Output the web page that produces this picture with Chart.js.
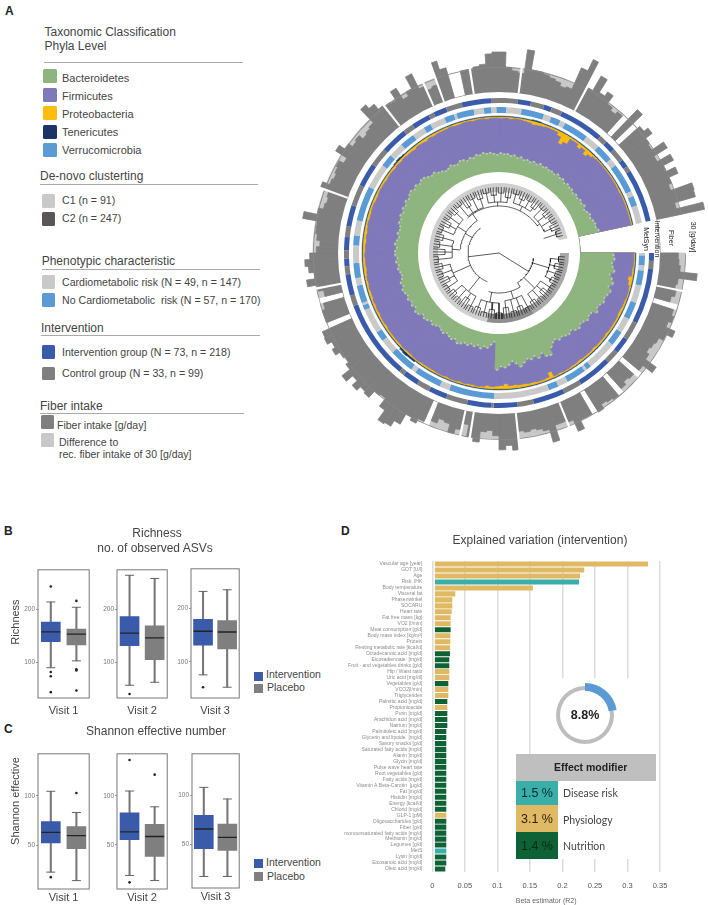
<!DOCTYPE html>
<html>
<head>
<meta charset="utf-8">
<script src="https://cdn.jsdelivr.net/npm/chart.js@4"></script>
<style>
  html, body { margin: 0; padding: 0; background: #fff; }
  #page { position: relative; width: 708px; height: 905px; overflow: hidden; background: #fff; font-family: "Liberation Sans", Arial, sans-serif; color: #444; }
  #page canvas { position: absolute; }
  .txt { position: absolute; white-space: nowrap; transform: translateY(-50%); z-index: 5; }
  .box { position: absolute; }
</style>
</head>
<body>
<div id="page"></div>
<script>
// ---- panel A data: one entry per 2 degree sector, clockwise from the gap ----
const fiberIntake = [
  22,23,25,46,24,22,24,20,0,27, 30,26,38,30,24,22,20,24,40,26,
  0,24,22,26,0,30,28,26,32,0, 30,30,41,26,24,24,43,27,24,22,
  24,22,44,38,43,26,20,22,35,30, 16,24,30,20,18,24,0,28,34,30,
  44,52,54,40,28,30,40,38,44,36, 46,34,30,32,38,34,40,39,0,30,
  30,26,0,22,28,40,30,36,40,34, 26,22,26,28,28,46,30,24,22,24,
  35,26,24,26,28,22,38,30,24,26, 20,22,24,46,40,32,30,28,40,24,
  30,46,26,20,22,49,38,0,0,30, 30,32,34,46,48,48,30,26,24,53,
  30,30,28,26,24,20,22,50,65,32, 52,34,40,28,24,28,0,46,0,34,
  40,30,28,45,26,44,30,42,30,26, 53,52,26,59
];
const bacteroidetes = [
  60,62,58,60,64,57,62,66,60,66, 63,60,62,58,56,60,52,51,54,50,
  48,52,49,44,47,45,42,44,39,42, 48,60,58,50,56,50,54,51,56,62,
  55,50,56,60,58,64,14,20,26,24, 29,24,28,25,29,27,31,33,28,31,
  29,26,30,27,24,27,30,27,31,33, 30,36,38,33,37,34,38,35,38,40,
  36,39,35,33,35,38,36,40,37,41, 41,38,42,39,36,40,37,38,42,40,
  44,41,45,42,46,43,46,48,44,47, 43,46,45,41,38,40,35,33,30,31,
  34,31,30,34,33,29,33,31,35,33, 36,34,35,33,31,34,32,33,30,32,
  28,31,27,29,27,30,27,31,28,30, 28,29,27,31,28,30,26,29,27,28,
  25,28,26,29,27,30,26,29,32,30, 33,35,34,38
];
const firmicutes = [
  36,34,38,35,31,33,30,29,36,30, 32,35,32,36,39,35,43,44,40,45,
  47,43,45,51,48,50,52,51,56,54, 48,35,38,36,38,45,41,43,38,31,
  38,42,37,29,34,29,80,73,69,72, 66,71,68,70,67,69,64,63,68,64,
  66,69,65,69,72,68,65,69,64,62, 65,59,57,61,58,61,56,60,56,55,
  58,55,60,61,60,56,57,54,57,54, 53,56,51,55,57,54,58,56,52,55,
  51,53,49,53,49,52,48,47,51,47, 52,48,50,53,56,53,60,61,63,64,
  60,64,65,61,63,66,62,65,61,62, 60,62,60,63,65,61,64,62,66,64,
  67,63,65,64,67,65,68,64,62,48, 56,66,68,59,66,57,66,66,69,68,
  71,68,70,67,69,66,69,67,64,66, 63,61,62,58
];
const proteobacteria = [
  2,2,2,3,3,8,6,3,2,2, 3,3,4,4,3,3,3,3,4,3,
  3,3,4,3,3,3,4,3,3,2, 2,3,2,12,4,3,3,4,4,5,
  5,6,5,9,6,5,4,5,3,2, 3,3,2,3,2,2,3,2,2,3,
  3,3,3,2,2,3,3,2,3,3, 3,3,3,4,3,3,4,3,4,3,
  4,4,3,4,3,4,5,4,4,3, 4,4,5,4,5,4,3,4,4,3,
  3,4,4,3,3,3,4,3,3,4, 3,4,3,4,4,5,3,4,5,3,
  4,3,3,3,2,3,3,2,2,3, 2,2,3,2,2,3,2,3,2,2,
  3,4,6,5,4,3,3,3,8,20, 14,3,3,8,4,11,6,3,2,2,
  2,2,2,2,2,2,3,2,2,2, 2,2,2,2
];
const tenericutes = [
  1,1,1,1,1,1,1,1,1,1, 1,1,1,1,1,1,1,1,1,1,
  1,1,1,1,1,1,1,1,1,1, 1,1,1,1,1,1,1,1,1,1,
  1,1,1,1,1,1,1,1,1,1, 1,1,1,1,1,1,1,1,1,1,
  1,1,1,1,3,3,4,3,1,1, 1,1,1,1,1,1,1,1,1,1,
  1,1,1,1,1,1,1,1,1,1, 1,1,1,1,1,1,1,1,1,1,
  1,1,1,1,1,1,1,1,1,1, 2,3,2,1,1,1,1,1,1,1,
  1,1,1,1,1,1,1,1,1,1, 1,1,1,1,1,1,1,1,1,1,
  1,1,2,2,1,1,1,1,1,1, 1,1,1,1,1,1,1,1,1,1,
  1,1,1,1,1,1,1,1,1,1, 1,1,1,1
];
const verrucomicrobia = [
  1,1,1,1,1,1,1,1,1,1, 1,1,1,1,1,1,1,1,1,1,
  1,1,1,1,1,1,1,1,1,1, 1,1,1,1,1,1,1,1,1,1,
  1,1,1,1,1,1,1,1,1,1, 1,1,1,1,1,1,1,1,1,1,
  1,1,1,1,1,1,1,1,1,1, 1,1,1,1,1,1,1,1,1,1,
  1,1,1,1,1,1,1,1,1,1, 1,1,1,1,1,1,1,1,1,1,
  1,1,1,1,1,1,1,1,1,1, 1,1,1,1,1,1,1,1,1,1,
  1,1,1,1,1,1,1,1,1,1, 1,1,1,1,1,1,1,1,1,1,
  1,1,1,1,1,1,1,1,1,1, 1,1,1,1,1,1,1,1,1,1,
  1,1,1,1,1,1,1,1,1,1, 1,1,1,1
];
const gapSectors = [0,0,0,0,0,0];
const fiberCutAt = [11.7,68,84,99,102,169,200,232,246,250,261,277,298];

// groups around the circle, as runs in degrees
const interventionRuns = ['I','C','I','C','I','C','I','C','I','C','I','C','I','C','I','C','I','C','I','C','I','C','I','C','I','C','I','C','I','C','I','C','I','C','I','C','I','C','I','C','I','C','I','C','I','C','I','C','I'];
const interventionSpans = [3,3,21,7,6,5,13,7,12,6,9,1,9,8,7,5,6,2,30,4,8,3,3,3,5,4,8,8,9,7,10,4,7,2,5,6,11,10,5,5,3,4,17,3,4,5,3,2,20];
const metsynRuns = ['G','B','G','B','G','B','G','B','G','B','G','B','G','B','G','B','G','B','G','B','G','B','G','B','G','B','G','B','G','B','G','B','G','B','G','B','G','B','G','B','G','B','G','B','G','B','G','B','G','B','G','B','G','B','G','B','G','B'];
const metsynSpans = [1,4,2,6,7,7,6,6,12,2,1,8,4,4,22,18,4,11,2,10,6,4,10,2,1,7,3,6,7,4,6,14,10,5,6,6,5,3,6,4,1,7,4,3,2,4,6,9,3,4,2,10,6,7,3,12,2,4];
// closing span of the MetSyn ring stays grey
const metsynTail = 7;

// dendrogram: arcs [from, to, radius], stems [angle, r0, r1], groups [from, to, radius, parent], forks [angle, radius]
const dendroArcs = [[9,58,35],[58,105,40],[112,233,31],[186,236,39],[228,325,47]];
const dendroStems = [[173,0,31],[32,0,35],[58,35,40],[210,31,39],[236,39,47]];
const dendroGroups = [[6,27,52,35],[34,55,50,35],[62,83,48,40],[90,111,50,40],[118,139,49,31],[146,167,50,31],[174,195,47,39],[202,223,49,39],[230,251,48,47],[258,279,51,47],[286,307,52,47],[314,335,50,47]];
const dendroForks = [[6,60],[13,57],[20,60],[27,58],[34,61],[41,56],[48,60],[55,58],[62,61],[69,57],[76,60],[83,55],[90,60],[97,57],[104,61],[111,58],[118,60],[125,55],[132,60],[139,58],[146,61],[153,56],[160,60],[167,58],[174,61],[181,54],[188,60],[195,58],[202,61],[209,56],[216,60],[223,58],[230,61],[237,55],[244,60],[251,57],[258,61],[265,58],[272,60],[279,56],[286,61],[293,58],[300,60],[307,56],[314,61],[321,58],[328,60],[335,57],[342,60]];

// ---- panels B and C: rows are visits, columns are intervention / placebo ----
const boxGroups = ['Intervention','Placebo'];
const visitNames = ['Visit 1','Visit 2','Visit 3'];
const richnessLow  = [[90,103],[57,62.5],[76,53]];
const richnessQ1   = [[139,133],[131.5,105],[131,124]];
const richnessMed  = [[157.7,153.5],[155,146],[157,155.6]];
const richnessQ3   = [[176,163],[186,168.5],[179,177]];
const richnessHigh = [[214,204],[263.7,257.7],[231,234]];
const richnessOut  = [[[243,82,74,44],[216,87,85,47]],[[40.5],[]],[[53],[]]];
const richnessRange = [[33,274.6],[33,274],[33,273]];
const richnessTicks = [100,200];
const shannonLow  = [[22.8,14.2],[18.8,13.7],[17.7,17.7]];
const shannonQ1   = [[52.5,46.5],[55.4,38.2],[45.9,44]];
const shannonMed  = [[63,59.8],[63.4,58.6],[65.8,57.3]];
const shannonQ3   = [[74,69],[82.8,71],[79.7,70.9]];
const shannonHigh = [[104.7,83.2],[105,88.9],[108,96.2]];
const shannonOut  = [[[17.7],[103]],[[136.6,11.8],[121.7]],[[],[]]];
const shannonRange = [[5.7,142.7],[5,143],[6,142]];
const shannonTicks = [50,100];

// ---- panel D ----
const effectLabels = ['Vascular age [year]','GOT [U/l]','Age','Risk: IHK','Body temperature','Visceral fat','Phasenwinkel','SOCARU','Heart rate','Fat free mass [kg]','VO2 [l/min]','Meat consumption [g/d]','Body mass index [kg/m²]','Protein','Resting metabolic rate [kcal/d]','Octadecanoic acid [mg/d]','Eicosadienoate  [mg/d]','Fruit - and vegetables drinks [g/d]','Hip / Waist ratio','Uric acid [mg/dl]','Vegetables [g/d]','VCO2[l/min]','Triglycerides','Palmitic acid [mg/d]','Propionicacide','Purin [mg/d]','Arachidon acid [mg/d]','Natrium [mg/d]','Palmitoleic acid [mg/d]','Glycerin and lipoide  [mg/d]','Savory snacks [g/d]','Saturated fatty acids [mg/d]','Alanin [mg/d]','Glycin [mg/d]','Pulse wave heart rate','Root vegetables [g/d]','Fatty acids [mg/d]','Vitamin A Beta-Carotin  [µg/d]','Fat [mg/d]','Histidin [mg/d]','Energy [kcal/d]','Chlorid [mg/d]','GLP-1 [pM]','Oligosaccharides [g/d]','Fiber [g/d]','monounsaturated fatty acids [mg/d]','Methionin [mg/d]','Legumes [g/d]','MetS','Lysin [mg/d]','Eicosanoic acid [mg/d]','Oleic acid [mg/d]'];
const effectValues = [0.331,0.233,0.2265,0.225,0.154,0.0349,0.0303,0.0303,0.0293,0.0277,0.0277,0.0277,0.0272,0.0272,0.0267,0.0267,0.0256,0.0256,0.0256,0.0256,0.0241,0.0241,0.0241,0.0226,0.0226,0.0226,0.0226,0.0226,0.021,0.021,0.021,0.021,0.021,0.021,0.021,0.021,0.021,0.021,0.021,0.021,0.021,0.021,0.021,0.021,0.021,0.021,0.021,0.021,0.021,0.021,0.021,0.0195];
const effectKinds = ['P','P','P','D','P','P','P','P','P','P','P','N','P','P','P','N','N','N','P','P','N','P','P','N','P','N','N','N','N','N','N','N','N','N','N','N','N','N','N','N','N','N','P','N','N','N','N','N','D','N','N','N'];
const effectTickLabels = ['0','0.05','0.1','0.15','0.2','0.25','0.3','0.35'];
const explainedShare = [8.8,30.3];

const kindColors = {P:'#E0B965', N:'#0F6235', D:'#3AAFA9'};
const page = document.getElementById('page');
const centerX = 499, centerY = 253;
const clear = 'rgba(0,0,0,0)';
Chart.defaults.font.family = '"Liberation Sans", Arial, sans-serif';

function addCanvas(left, top, w, h) {
  const c = document.createElement('canvas');
  c.width = w; c.height = h;
  c.style.left = left + 'px'; c.style.top = top + 'px';
  c.style.width = w + 'px'; c.style.height = h + 'px';
  page.appendChild(c);
  return c;
}
function addText(text, x, y, size, extra) {
  const d = document.createElement('div');
  d.className = 'txt';
  d.textContent = text;
  d.style.left = x + 'px'; d.style.top = y + 'px'; d.style.fontSize = size + 'px';
  if (extra) Object.assign(d.style, extra);
  page.appendChild(d);
  return d;
}
function addBox(x, y, w, h, color, radius) {
  const d = document.createElement('div');
  d.className = 'box';
  Object.assign(d.style, {left:x+'px', top:y+'px', width:w+'px', height:h+'px', background:color, borderRadius:(radius||0)+'px'});
  page.appendChild(d);
  return d;
}
const baseOptions = {responsive:false, animation:false, events:[], plugins:{legend:{display:false}, tooltip:{enabled:false}}};

function ring(cx, cy, radius, thickness, spans, colors, rotation, sweep) {
  const size = radius * 2;
  new Chart(addCanvas(cx - radius, cy - radius, size, size), {
    type: 'doughnut',
    data: {labels: spans.map((s, i) => i), datasets: [{data: spans, backgroundColor: colors, borderWidth: 0}]},
    options: {...baseOptions, cutout: radius - thickness, rotation: rotation === undefined ? 90 : rotation, circumference: sweep === undefined ? 348 : sweep}
  });
}
function radialScale(min, max, start) {
  return {r: {min, max, startAngle: start, ticks: {display:false}, grid: {display:false}, angleLines: {display:false}, pointLabels: {display:false}}};
}
const sectorLabels = fiberIntake.concat(gapSectors).map((v, i) => i);
function polarLayer(radius, min, max, datasets) {
  new Chart(addCanvas(centerX - radius, centerY - radius, radius * 2, radius * 2), {
    type: 'polarArea',
    data: {labels: sectorLabels, datasets},
    options: {...baseOptions, scales: radialScale(min, max, 90)}
  });
}
function sector(values, color) {
  return {data: values.concat(gapSectors), backgroundColor: color, borderColor: color, borderWidth: 0.8};
}

// ---- A: fiber bars, 30 g line and cuts ----
polarLayer(220, -193.2, 70.8, [
  sector(fiberIntake, '#7F7F7F'),
  sector(fiberIntake.map(v => v > 0 ? 30 : 0), '#C8C8C8')
]);
ring(centerX, centerY, 186.5, 0.8, [348], ['#8a8a8a']);

const cutSpans = [], cutColors = [];
let prevCut = 0;
fiberCutAt.forEach(at => {
  cutSpans.push(at - 0.35 - prevCut, 0.7);
  cutColors.push(clear, '#fff');
  prevCut = at + 0.35;
});
cutSpans.push(348 - prevCut);
cutColors.push(clear);
ring(centerX, centerY, 222, 61, cutSpans, cutColors);
addBox(centerX - 161, centerY - 161, 322, 322, '#fff', 161);

// ---- A: the two group rings ----
ring(centerX, centerY, 155, 5, interventionSpans, interventionRuns.map(k => k === 'I' ? '#3A5BAA' : '#7F7F7F'));
ring(centerX, centerY, 146, 6, metsynSpans.concat([metsynTail]), metsynRuns.concat(['G']).map(k => k === 'B' ? '#5B9BD5' : '#C9C9C9'));

// ---- A: stacked phyla, drawn outermost first through one radial scale ----
const stackedPhyla = [bacteroidetes, firmicutes, proteobacteria, tenericutes, verrucomicrobia];
const phylaColors = ['#8FB57F','#7F78BB','#FDBC0E','#1C3566','#5B9BD5'];
let running = bacteroidetes.map(() => 0);
const phylaSets = stackedPhyla.map((series, k) => {
  running = running.map((v, i) => v + series[i]);
  return sector(running, phylaColors[k]);
});
polarLayer(140, -144.6, 105.4, phylaSets);
new Chart(addCanvas(centerX - 140, centerY - 140, 280, 280), {
  type: 'radar',
  data: {labels: sectorLabels, datasets: [{data: bacteroidetes.concat(gapSectors.map(() => null)), showLine: false, fill: false, backgroundColor: clear, borderColor: clear, borderWidth: 0, pointRadius: 1, pointBorderWidth: 0, pointBackgroundColor: '#C3CAC0'}]},
  options: {...baseOptions, scales: radialScale(-144.6, 105.4, 91)}
});
addBox(centerX - 81, centerY - 81, 162, 162, '#fff', 81);

// ---- A: dendrogram ----
ring(centerX, centerY, 70, 9, [60,40,248], ['#a8a8a8','#8e8e8e','#cfcfcf']);
const treePts = [];
const gapPt = {x: NaN, y: NaN};
function toXY(phi, r) {
  const a = phi * Math.PI / 180;
  return {x: r * Math.cos(a), y: -r * Math.sin(a)};
}
function addArc(a0, a1, r) {
  for (let a = a0; a < a1; a += 2) treePts.push(toXY(a, r));
  treePts.push(toXY(a1, r), gapPt);
}
function addStem(phi, r0, r1) { treePts.push(toXY(phi, r0), toXY(phi, r1), gapPt); }
dendroArcs.forEach(a => addArc(a[0], a[1], a[2]));
dendroStems.forEach(s => addStem(s[0], s[1], s[2]));
dendroGroups.forEach(g => {
  addArc(g[0], g[1], g[2]);
  addStem((g[0] + g[1]) / 2, g[3], g[2]);
});
dendroForks.forEach(f => {
  const group = dendroGroups.find(g => f[0] >= g[0] && f[0] <= g[1]);
  addArc(f[0] - 2.6, f[0] + 2.6, f[1]);
  addStem(f[0], group ? group[2] : 47, f[1]);
  addStem(f[0] - 2.6, f[1], 66);
  addStem(f[0], f[1], 66);
  addStem(f[0] + 2.6, f[1], 66);
});
new Chart(addCanvas(centerX - 72, centerY - 72, 144, 144), {
  type: 'scatter',
  data: {datasets: [{data: treePts, showLine: true, pointRadius: 0, borderColor: '#151515', borderWidth: 0.7}]},
  options: {...baseOptions, scales: {x: {type:'linear', min:-72, max:72, display:false}, y: {type:'linear', min:-72, max:72, display:false}}}
});

// ---- B, C: box plots ----
const framePlugin = {
  id: 'frame',
  afterDraw(chart) {
    const a = chart.chartArea, ctx = chart.ctx;
    ctx.save();
    ctx.strokeStyle = '#777';
    ctx.lineWidth = 1;
    ctx.strokeRect(a.left, a.top, a.right - a.left, a.bottom - a.top);
    ctx.restore();
  }
};
function boxPanel(frame, range, ticks, name, low, q1, med, q3, high, outliers, axisHeight, titlePad) {
  const [left, right, top, bottom] = frame;
  const points = (values) => values.flatMap((list, g) => list.map(y => ({x: boxGroups[g], y})));
  new Chart(addCanvas(left - 22, top - 2, right - left + 24, bottom - top + 2 + axisHeight), {
    type: 'bar',
    data: {
      labels: boxGroups,
      datasets: [
        {type:'scatter', data: points(outliers), pointRadius: 1.3, pointBackgroundColor:'#222', pointBorderWidth:0, order:1},
        {type:'scatter', data: med.map((y, g) => ({x: boxGroups[g], y})), pointStyle:'line', pointRadius: 9.5, pointBorderWidth: 1.3, pointBorderColor:'#222', order:2},
        {data: q1.map((v, g) => [v, q3[g]]), backgroundColor:['#3A5BAA','#7F7F7F'], barThickness:19, grouped:false, order:3},
        {type:'scatter', data: low.concat(high).map((y, g) => ({x: boxGroups[g % 2], y})), pointStyle:'line', pointRadius: 4.5, pointBorderWidth: 1, pointBorderColor:'#666', order:4},
        {data: low.map((v, g) => [v, high[g]]), backgroundColor:'#777', barThickness:1.4, grouped:false, order:5}
      ]
    },
    options: {...baseOptions,
      layout: {padding: {top: 2, right: 2}},
      scales: {
        x: {type:'category', grid:{display:false}, border:{display:false}, ticks:{display:false},
            title:{display:true, text:name, font:{size:11}, color:'#444', padding:{top:titlePad, bottom:0}},
            afterFit(s) { s.height = axisHeight; }},
        y: {min: range[0], max: range[1], grid:{drawOnChartArea:false, tickLength:2, color:'#999'}, border:{display:false},
            ticks:{font:{size:6.5}, color:'#777', padding:1},
            afterBuildTicks(s) { s.ticks = ticks.map(v => ({value:v})); },
            afterFit(s) { s.width = 22; }}
      }
    },
    plugins: [framePlugin]
  });
}
const richnessFrames = [[38,98,561,698],[117,176,561,698],[191,248,560,698]];
const shannonFrames = [[38,98,745,889],[117,176,745,889],[192,248,745,888]];
visitNames.forEach((name, v) => {
  boxPanel(richnessFrames[v], richnessRange[v], richnessTicks, name, richnessLow[v], richnessQ1[v], richnessMed[v], richnessQ3[v], richnessHigh[v], richnessOut[v], 20, 5);
  boxPanel(shannonFrames[v], shannonRange[v], shannonTicks, name, shannonLow[v], shannonQ1[v], shannonMed[v], shannonQ3[v], shannonHigh[v], shannonOut[v], 16, 0);
});

// ---- D: explained variation ----
new Chart(addCanvas(340, 555, 368, 350), {
  type: 'bar',
  data: {labels: effectLabels, datasets: [{data: effectValues, base: 0.0045, backgroundColor: effectKinds.map(k => kindColors[k]), barThickness: 4.4}]},
  options: {...baseOptions, indexAxis:'y',
    layout: {padding: {top: 6, right: 48}},
    scales: {
      x: {min:0, max:0.35, grid:{color:'#dcdcdc', lineWidth:1.5, drawTicks:false}, border:{display:false},
          afterBuildTicks(s) { s.ticks = effectTickLabels.map(t => ({value: Number(t)})); },
          ticks:{callback:(v, i) => effectTickLabels[i], font:{size:7.5}, color:'#555', padding:9, maxRotation:0},
          title:{display:true, text:'Beta estimator (R2)', font:{size:7}, color:'#666', padding:{top:2, bottom:0}},
          afterFit(s) { s.height = 33; }},
      y: {grid:{display:false}, border:{display:false}, ticks:{autoSkip:false, font:{size:5}, color:'#8c8c8c', padding:2, minRotation:0, maxRotation:0},
          afterFit(s) { s.width = 92.3; }}
    }
  }
});

// white patches that interrupt the grid around the donut and effect table
addBox(540, 678, 100, 76, '#fff');
addBox(516, 754, 140, 105, '#fff');
ring(585, 715, 29, 4, [1], ['#BDBDBD'], 0, 360);
ring(585, 715, 32, 8, explainedShare, ['#5B9BD5', clear], 0, 360);
addText('8.8%', 585, 715, 12.5, {fontWeight:'bold', color:'#222', transform:'translate(-50%,-50%)'});

addBox(515.7, 754.3, 140.3, 26.4, '#BFBFBF');
addBox(515.7, 780.7, 42.6, 24.6, '#3AAFA9');
addBox(515.7, 805.3, 42.6, 26.7, '#E0B965');
addBox(515.7, 832, 42.6, 26.7, '#0F6235');
addText('Effect modifier', 590.7, 767, 10.5, {fontWeight:'bold', color:'#222', transform:'translate(-50%,-50%)'});
[['1.5 %',793,'#0d2b33'],['3.1 %',819,'#2b1d06'],['1.4 %',846,'#0a2a18']].forEach(r => addText(r[0], 537, r[1], 12.5, {color:r[2], transform:'translate(-50%,-50%)'}));
[['Disease risk',793],['Physiology',820],['Nutrition',846]].forEach(r => addText(r[0], 563, r[1], 10.5, {fontFamily:'Lato', color:'#444'}));

// ---- texts and legends ----
addText('A', 5, 11, 12, {fontWeight:'bold', color:'#222'});
addText('B', 4, 530.5, 12, {fontWeight:'bold', color:'#222'});
addText('C', 4, 729, 12, {fontWeight:'bold', color:'#222'});
addText('D', 341, 530.5, 12, {fontWeight:'bold', color:'#222'});

addText('Taxonomic Classification', 44.5, 32, 12);
addText('Phyla Level', 44.5, 46, 12);
[[44,61.5,199],[40,183.7,218],[41.7,268.7,218],[41,335.3,219],[40,412.7,204]].forEach(l => addBox(l[0], l[1], l[2], 1, '#aaa'));
[['Bacteroidetes','#8FB57F',69,78],['Firmicutes','#7F78BB',88,96],['Proteobacteria','#FDBC0E',106,114],['Tenericutes','#1C3566',125,132],['Verrucomicrobia','#5B9BD5',143,150]].forEach(r => {
  addBox(43, r[2], 14, 13.5, r[1], 1.5);
  addText(r[0], 62, r[3], 11);
});
addText('De-novo clusterting', 40, 176, 12);
[['C1 (n = 91)','#C9C9C9',194,200],['C2 (n = 247)','#5A5657',212,218],['Cardiometabolic risk (N = 49, n = 147)','#C9C9C9',275,281.7],['No Cardiometabolic  risk (N = 57, n = 170)','#5B9BD5',293,299.7],['Intervention group (N = 73, n = 218)','#3A5BAA',345,351.7],['Control group (N = 33, n = 99)','#7F7F7F',366.7,373]].forEach(r => {
  addBox(41.5, r[2], 13.5, 13.5, r[1], 1.5);
  addText(r[0], 62, r[3], 10.6, {whiteSpace:'pre'});
});
addText('Phenotypic characteristic', 41.7, 260.7, 12);
addText('Intervention', 41, 328, 12);
addText('Fiber intake', 40, 405.7, 12);
addBox(40.7, 415, 13.5, 13.5, '#7F7F7F', 1.5);
addBox(40.7, 433, 13.5, 13.5, '#C8C8C8', 1.5);
addText('Fiber intake [g/day]', 57, 425, 10.5);
addText('Difference to', 59, 441.7, 10.5);
addText('rec. fiber intake of 30 [g/day]', 59, 454, 10.5);

[['MetSyn',646,239],['Intervention',657,239],['Fiber',671,237.5],['30 [g/day]',693,237]].forEach(r => {
  addText(r[0], r[1], r[2], 7, {color:'#222', transform:'translate(-50%,-50%) rotate(90deg)'});
});

addText('Richness', 157, 533, 12, {transform:'translate(-50%,-50%)'});
addText('no. of observed ASVs', 155, 548, 12, {transform:'translate(-50%,-50%)'});
addText('Richness', 15, 622, 11, {transform:'translate(-50%,-50%) rotate(-90deg)'});
addText('Shannon effective number', 156, 731, 12, {transform:'translate(-50%,-50%)'});
addText('Shannon effective', 15, 801, 11, {transform:'translate(-50%,-50%) rotate(-90deg)'});
addText('Explained variation (intervention)', 540, 540, 12, {transform:'translate(-50%,-50%)'});

[[672,674,684,687],[859,862,872,876]].forEach(r => {
  addBox(254, r[0], 8.5, 9, '#3A5BAA');
  addBox(254, r[2], 8.5, 9, '#7F7F7F');
  addText('Intervention', 266, r[1], 10.5);
  addText('Placebo', 267, r[3], 10.5);
});
</script>
</body>
</html>
